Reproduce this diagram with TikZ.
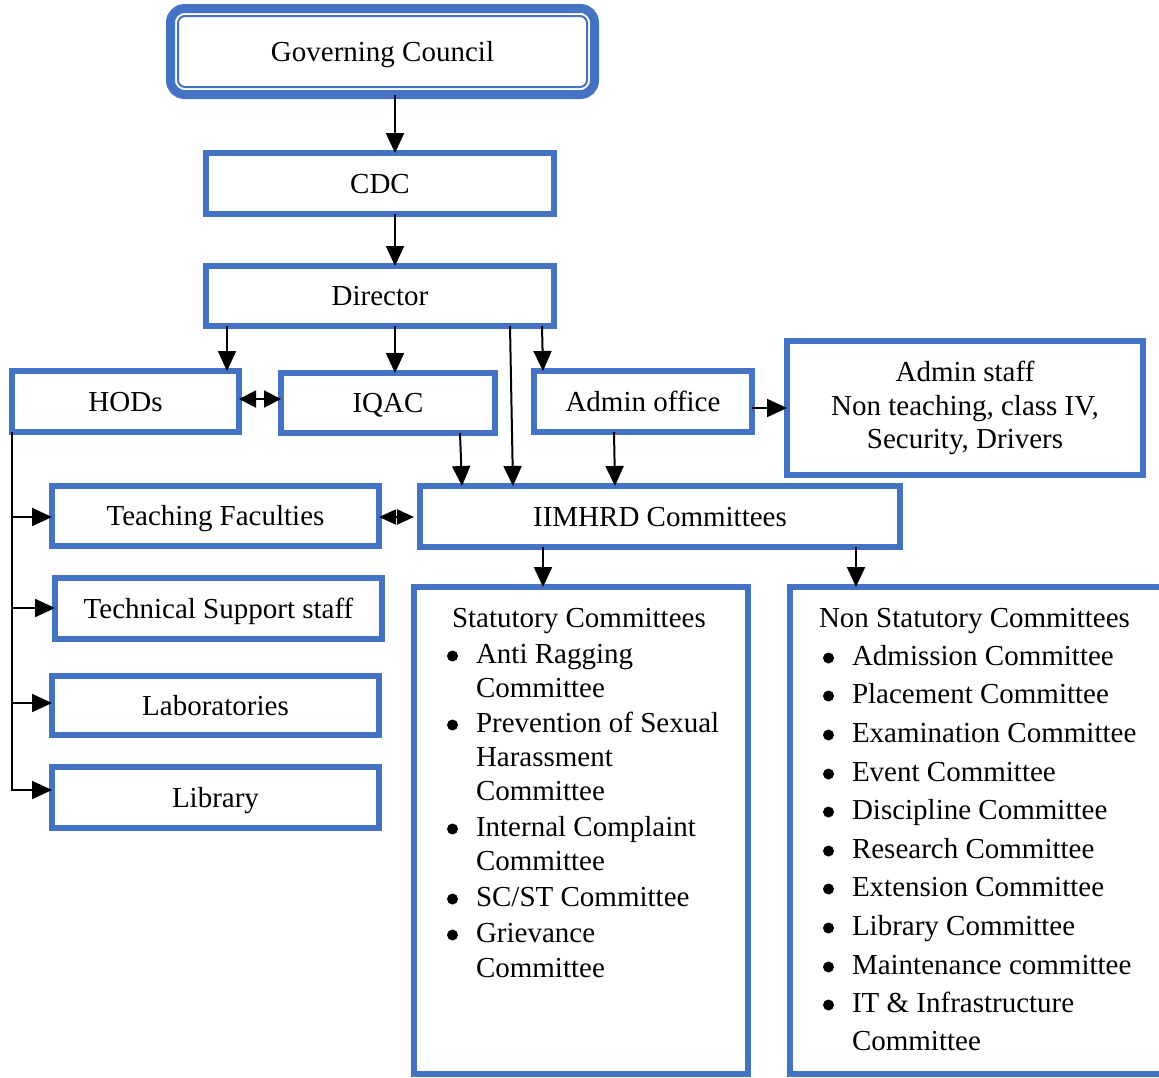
\documentclass[tikz,border=0pt]{standalone}
\usepackage{fontspec}
\setmainfont{Liberation Serif}
\usetikzlibrary{arrows.meta,calc}
\definecolor{boxblue}{HTML}{4472C4}
\begin{document}
\begin{tikzpicture}[x=1pt,y=-1pt,
  every node/.style={font=\fontsize{29pt}{33.5pt}\selectfont, inner sep=0pt, outer sep=0pt},
  frame/.style={draw=boxblue, line width=6pt, rectangle},
  box/.style={frame, text height=21.5pt, text depth=2.5pt},
  arr/.style={draw=black, line width=2pt, -{Triangle[length=20pt,width=18pt]}},
  dbl/.style={draw=black, line width=2pt,
    {Triangle[length=17pt,width=17pt]}-{Triangle[length=17pt,width=17pt]}},
  dblshort/.style={draw=black, line width=2pt, shorten >=6pt,
    {Triangle[length=17pt,width=15pt]}-{Triangle[length=17pt,width=15pt]}},
  bul/.style={fill=black, circle, minimum size=11pt}
]
\fill[white] (0,0) rectangle (1159,1077);
\useasboundingbox (0,0) rectangle (1159,1077);
\clip (0,0) rectangle (1159,1077);

% --- top of the hierarchy: thick rounded frame with a thin inner rule ---
\node[draw=boxblue, line width=9pt, rounded corners=14pt, minimum width=424pt,
      minimum height=86pt, text height=21.5pt, text depth=2.5pt]
      (GC) at (382.5,51.5) {Governing Council};
\node[draw=boxblue, line width=2pt, rounded corners=7pt, minimum width=409pt,
      minimum height=71pt] (GCin) at (GC.center) {};

\node[box, minimum width=348pt, minimum height=61pt] (CDC) at (380,183.5) {CDC};
\node[box, minimum width=348pt, minimum height=60pt] (DIR) at (380,296) {Director};

% --- second level ---
\node[box, minimum width=227pt, minimum height=61pt] (HOD) at (125.5,401.5) {HODs};
\node[box, minimum width=214pt, minimum height=60pt] (IQAC) at (388,403) {IQAC};
\node[box, minimum width=218pt, minimum height=61pt] (ADM) at (643,401.5) {Admin office};
\node[frame, align=center, minimum width=356pt, minimum height=134pt] (STAFF) at (965,408)
  {Admin staff\\Non teaching, class IV,\\Security, Drivers};

% --- departments ---
\node[box, minimum width=327pt, minimum height=60pt] (TF) at (215.5,516) {Teaching Faculties};
\node[box, minimum width=480pt, minimum height=61pt] (IIM) at (660,516.5) {IIMHRD Committees};
\node[box, minimum width=327pt, minimum height=61pt] (TS) at (218.5,608.5) {Technical Support staff};
\node[box, minimum width=327pt, minimum height=59pt] (LAB) at (215.5,705.5) {Laboratories};
\node[box, minimum width=327pt, minimum height=61pt] (LIB) at (215.5,797.5) {Library};

% --- committee panels ---
\node[frame, minimum width=334pt, minimum height=487pt] (STAT) at (581,830.5) {};
\node[frame, minimum width=380pt, minimum height=487pt] (NSTAT) at (980,830.5) {};

% statutory list
\node[anchor=base west] (s0) at (452,627) {Statutory Committees};
\node[bul] (sb1) at (452.5,656) {};
\node[anchor=base west] (s1) at (476,663) {Anti Ragging};
\node[anchor=base west] (s2) at (476,697) {Committee};
\node[bul] (sb2) at (452.5,725) {};
\node[anchor=base west] (s3) at (476,732) {Prevention of Sexual};
\node[anchor=base west] (s4) at (476,766) {Harassment};
\node[anchor=base west] (s5) at (476,800) {Committee};
\node[bul] (sb3) at (452.5,829) {};
\node[anchor=base west] (s6) at (476,836) {Internal Complaint};
\node[anchor=base west] (s7) at (476,870) {Committee};
\node[bul] (sb4) at (452.5,899) {};
\node[anchor=base west] (s8) at (476,906) {SC/ST Committee};
\node[bul] (sb5) at (452.5,935) {};
\node[anchor=base west] (s9) at (476,942) {Grievance};
\node[anchor=base west] (s10) at (476,977) {Committee};

% non statutory list
\node[anchor=base west] (n0) at (819,627) {Non Statutory Committees};
\node[bul] (nb1) at (828.5,658) {};
\node[anchor=base west] (n1) at (852,665) {Admission Committee};
\node[bul] (nb2) at (828.5,696) {};
\node[anchor=base west] (n2) at (852,703) {Placement Committee};
\node[bul] (nb3) at (828.5,735) {};
\node[anchor=base west] (n3) at (852,742) {Examination Committee};
\node[bul] (nb4) at (828.5,774) {};
\node[anchor=base west] (n4) at (852,781) {Event Committee};
\node[bul] (nb5) at (828.5,812) {};
\node[anchor=base west] (n5) at (852,819) {Discipline Committee};
\node[bul] (nb6) at (828.5,851) {};
\node[anchor=base west] (n6) at (852,858) {Research Committee};
\node[bul] (nb7) at (828.5,889) {};
\node[anchor=base west] (n7) at (852,896) {Extension Committee};
\node[bul] (nb8) at (828.5,928) {};
\node[anchor=base west] (n8) at (852,935) {Library Committee};
\node[bul] (nb9) at (828.5,967) {};
\node[anchor=base west] (n9) at (852,974) {Maintenance committee};
\node[bul] (nb10) at (828.5,1005) {};
\node[anchor=base west] (n10) at (852,1012) {IT \& Infrastructure};
\node[anchor=base west] (n11) at (852,1050) {Committee};

% --- connectors ---
\draw[arr] ([xshift=12.5pt]GC.south) -- ([xshift=15pt]CDC.north);
\draw[arr] ([xshift=15pt]CDC.south) -- ([xshift=15pt]DIR.north);
\draw[arr] ([xshift=-153pt]DIR.south) -- ([xshift=101.5pt]HOD.north);
\draw[arr] ([xshift=15pt]DIR.south) -- ([xshift=7pt]IQAC.north);
\draw[arr] ([xshift=162pt]DIR.south) -- ([xshift=-100pt]ADM.north);
\draw[arr] ([xshift=130pt]DIR.south) -- ([xshift=-147pt]IIM.north);
\draw[arr] ([xshift=72pt]IQAC.south) -- ([xshift=-198pt]IIM.north);
\draw[arr] ([xshift=-29pt]ADM.south) -- ([xshift=-45pt]IIM.north);
\draw[arr] ([yshift=-6.5pt]ADM.east) -- (STAFF.west);
\draw[dbl] ([yshift=2.5pt]HOD.east) -- ([yshift=4pt]IQAC.west);
\draw[dblshort] ([yshift=-1pt]TF.east) -- ([yshift=-0.5pt]IIM.west);
\draw[arr] ([xshift=-117pt]IIM.south) -- ([xshift=-38pt]STAT.north);
\draw[arr] ([xshift=196pt]IIM.south) -- ([xshift=-124pt]NSTAT.north);

% HODs trunk with its branches
\coordinate (tTF) at ([yshift=-1pt]TF.west);
\coordinate (tTS) at ([yshift=0.5pt]TS.west);
\coordinate (tLAB) at ([yshift=2.5pt]LAB.west);
\coordinate (tLIB) at ([yshift=7.5pt]LIB.west);
\draw[arr] (HOD.south west) |- (tLIB);
\draw[arr] (tTF -| HOD.south west) -- (tTF);
\draw[arr] (tTS -| HOD.south west) -- (tTS);
\draw[arr] (tLAB -| HOD.south west) -- (tLAB);
\end{tikzpicture}
\end{document}
